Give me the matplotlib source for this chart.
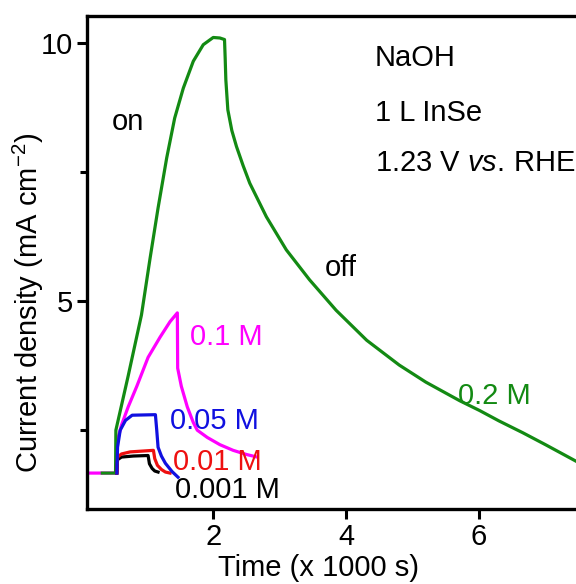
import numpy as np
import matplotlib
matplotlib.use("Agg")
import matplotlib.pyplot as plt

plt.rcParams['font.family'] = ['Liberation Sans', 'DejaVu Sans']
plt.rcParams['mathtext.fontset'] = 'custom'
plt.rcParams['mathtext.rm'] = 'Liberation Sans'
plt.rcParams['mathtext.it'] = 'Liberation Sans:italic'

# time in units of 1000 s, current density in mA cm^-2
t_02 = [0.33, 0.53, 0.535, 0.72, 0.92, 1.05, 1.17, 1.30, 1.42, 1.55, 1.70, 1.85,
        2.00, 2.10, 2.17, 2.18, 2.19, 2.22, 2.28, 2.35, 2.45, 2.55, 2.80, 3.10,
        3.45, 3.85, 4.31, 4.80, 5.20, 5.71, 6.01, 6.30, 6.66, 7.00, 7.46]
j_02 = [1.67, 1.67, 2.50, 3.55, 4.73, 5.83, 6.80, 7.77, 8.54, 9.12, 9.64, 9.96,
        10.10, 10.09, 10.06, 9.70, 9.28, 8.70, 8.30, 7.99, 7.62, 7.28, 6.63, 5.99,
        5.41, 4.82, 4.24, 3.76, 3.43, 3.07, 2.88, 2.68, 2.45, 2.22, 1.90]

t_01 = [0.10, 0.55, 0.56, 0.62, 0.72, 0.85, 1.02, 1.20, 1.35, 1.46,
        1.465, 1.52, 1.61, 1.70, 1.76, 1.91, 2.10, 2.30, 2.50, 2.66]
j_01 = [1.67, 1.67, 2.31, 2.60, 2.95, 3.35, 3.91, 4.30, 4.60, 4.77,
        3.70, 3.35, 2.95, 2.65, 2.50, 2.36, 2.22, 2.11, 2.03, 1.98]

t_005 = [0.55, 0.56, 0.60, 0.68, 0.78, 1.13, 1.15, 1.17, 1.22, 1.28, 1.38, 1.47]
j_005 = [1.67, 2.17, 2.50, 2.69, 2.79, 2.80, 2.50, 2.17, 2.00, 1.86, 1.70, 1.59]

t_001 = [0.55, 0.56, 0.62, 0.75, 1.10, 1.12, 1.16, 1.22, 1.28, 1.35]
j_001 = [1.67, 1.98, 2.04, 2.08, 2.11, 1.95, 1.82, 1.74, 1.69, 1.67]

t_0001 = [0.55, 0.56, 0.62, 0.80, 1.02, 1.04, 1.08, 1.12, 1.17]
j_0001 = [1.67, 1.93, 1.98, 2.00, 2.01, 1.85, 1.76, 1.71, 1.69]

GREEN = '#138a13'
MAGENTA = '#ff00ff'
BLUE = '#1010e0'
RED = '#ee1010'

fig = plt.figure(figsize=(5.76, 5.84), dpi=100)
ax = fig.add_axes([0.151, 0.128, 0.849, 0.845])

ax.plot(t_01, j_01, color=MAGENTA, lw=2.3)
ax.plot(t_02, j_02, color=GREEN, lw=2.3)
ax.plot(t_0001, j_0001, color='black', lw=2.3)
ax.plot(t_001, j_001, color=RED, lw=2.3)
ax.plot(t_005, j_005, color=BLUE, lw=2.3)

ax.set_xlim(0.1, 7.46)
ax.set_ylim(0.97, 10.52)
ax.set_xticks([2, 4, 6])
ax.set_yticks([5, 10])
ax.set_yticks([2.5, 7.5], minor=True)
ax.tick_params(which='both', direction='out', width=2.2, labelsize=21, length=7, pad=3)
ax.tick_params(which='minor', length=5)
for s in ['left', 'bottom', 'top']:
    ax.spines[s].set_linewidth(2.4)
ax.spines['right'].set_visible(False)

fig.text(318 / 576, 1 - 568 / 584, 'Time (x 1000 s)', fontsize=21, ha='center', va='center')
fig.text(28 / 576, 1 - 303 / 584, 'Current density (mA cm$^{-2}$)', fontsize=21,
         ha='center', va='center', rotation=90)

fs = 21
ax.text(0.48, 8.47, 'on', fontsize=fs, va='center')
ax.text(3.68, 5.64, 'off', fontsize=fs, va='center')
ax.text(4.43, 9.71, 'NaOH', fontsize=fs, va='center')
ax.text(4.43, 8.64, '1 L InSe', fontsize=fs, va='center')
ax.text(4.43, 7.67, '1.23 V $\\mathit{vs.}\\,$RHE', fontsize=fs, va='center')
ax.text(1.65, 4.30, '0.1 M', fontsize=fs, va='center', color=MAGENTA)
ax.text(1.35, 2.67, '0.05 M', fontsize=fs, va='center', color=BLUE)
ax.text(1.39, 1.88, '0.01 M', fontsize=fs, va='center', color=RED)
ax.text(1.42, 1.34, '0.001 M', fontsize=fs, va='center', color='black')
ax.text(5.68, 3.16, '0.2 M', fontsize=fs, va='center', color=GREEN)

fig.savefig('out.png', dpi=100)
